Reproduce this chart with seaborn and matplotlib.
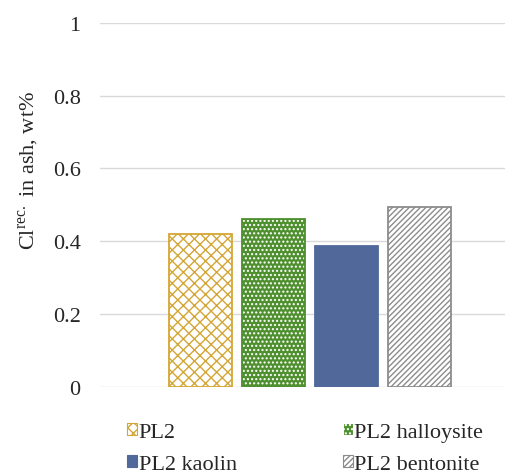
import matplotlib
matplotlib.use("Agg")
import matplotlib.pyplot as plt
from matplotlib.patches import Patch, Rectangle
import seaborn as sns
import pandas as pd

samples = ["PL2", "PL2 halloysite", "PL2 kaolin", "PL2 bentonite"]
values = [0.42, 0.46, 0.387, 0.495]
yticks = [0, 0.2, 0.4, 0.6, 0.8, 1]
ytick_labels = ["0", "0.2", "0.4", "0.6", "0.8", "1"]

# per-series styling: face, edge/hatch colour, hatch
styles = {
    "PL2": dict(face="white", edge="#D4A636", hatch="xxx", outline="#D4A636"),
    "PL2 halloysite": dict(face="#4E8F2E", edge="white", hatch="....", outline="#4E8F2E"),
    "PL2 kaolin": dict(face="#51699A", edge="#51699A", hatch="", outline="#51699A"),
    "PL2 bentonite": dict(face="white", edge="#8C8C8C", hatch="//////", outline="#8C8C8C"),
}

sns.set_theme(style="white")
SERIF = ["Liberation Serif", "DejaVu Serif"]
plt.rcParams["font.family"] = "serif"
plt.rcParams["font.serif"] = SERIF
plt.rcParams["mathtext.fontset"] = "custom"
plt.rcParams["mathtext.rm"] = "Liberation Serif"
plt.rcParams["hatch.linewidth"] = 1.0

df = pd.DataFrame({"group": [""] * len(samples), "sample": samples, "value": values})

fig = plt.figure(figsize=(5.18, 4.77), dpi=100)
ax = fig.add_axes([0.193, 0.187, 0.782, 0.763])

sns.barplot(data=df, x="group", y="value", hue="sample", hue_order=samples,
            dodge=True, width=0.8, gap=0.14, legend=False, ax=ax, errorbar=None)

for container, name in zip(ax.containers, samples):
    st = styles[name]
    for bar in container:
        bar.set_facecolor(st["face"])
        bar.set_edgecolor(st["edge"])
        bar.set_hatch(st["hatch"])
        bar.set_linewidth(0)
        ax.add_patch(Rectangle(bar.get_xy(), bar.get_width(), bar.get_height(),
                               fill=False, edgecolor=st["outline"], linewidth=1.3,
                               zorder=bar.get_zorder() + 0.1))

ax.set_xlim(-0.575, 0.534)
ax.set_ylim(0, 1)
ax.set_yticks(yticks)
ax.set_yticklabels(ytick_labels, fontsize=16, fontfamily=SERIF)
ax.set_xticks([])
ax.set_xlabel("")
ax.set_ylabel(r"Cl$^{\rm rec.}$ in ash, wt%", fontsize=16, fontfamily=SERIF)
ax.yaxis.set_label_coords(-0.145, 0.596)
ax.yaxis.grid(True, color="#D9D9D9", linewidth=1)
ax.set_axisbelow(True)
ax.tick_params(axis="y", length=0, pad=14)
for sp in ax.spines.values():
    sp.set_visible(False)

# legend filled row by row: PL2 | halloysite, kaolin | bentonite
order = ["PL2", "PL2 kaolin", "PL2 halloysite", "PL2 bentonite"]
handles = []
for name in order:
    st = styles[name]
    handles.append(Patch(facecolor=st["face"], edgecolor=st["edge"] if st["hatch"] else st["outline"],
                         hatch=st["hatch"] or None, linewidth=0.8, label=name))
fig.legend(handles=handles, labels=order, ncol=2, loc="center",
           bbox_to_anchor=(0.589, 0.058), frameon=False,
           prop={"family": SERIF, "size": 16},
           handlelength=0.45, handleheight=0.45, handletextpad=0.08,
           columnspacing=4.75, labelspacing=0.6)

fig.savefig("out.png", dpi=100)
